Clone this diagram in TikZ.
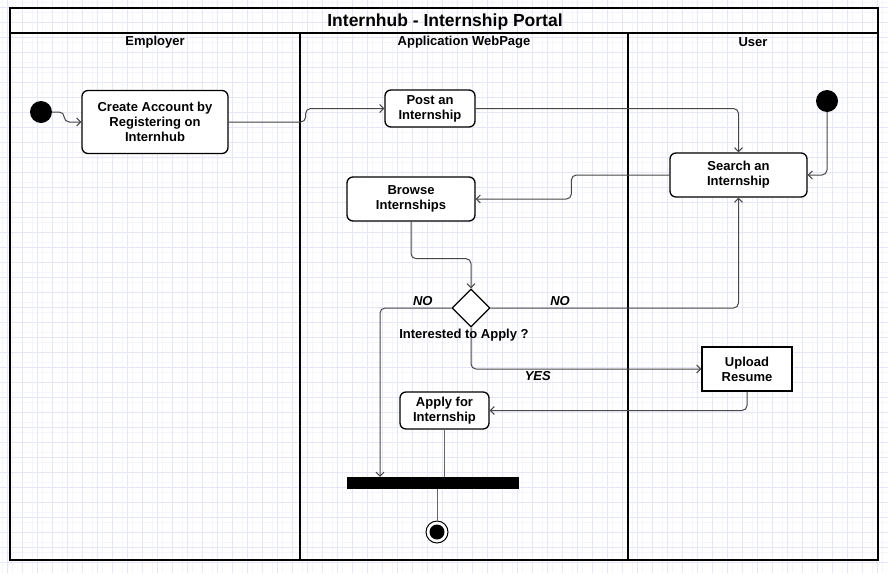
\documentclass[tikz,border=0pt]{standalone}
\usepackage{fontspec}
\setmainfont{Liberation Sans}
\usetikzlibrary{arrows.meta,shapes.geometric,positioning}
\definecolor{gridline}{HTML}{E6E6F9}
\definecolor{gridfaint}{HTML}{F5F5FD}

\begin{document}
\begin{tikzpicture}[x=1pt, y=-1pt,
    font=\fontsize{13}{15}\selectfont\bfseries,
    act/.style={draw, line width=1.3pt, rounded corners=6pt, fill=white, align=center, inner sep=0pt},
    startdot/.style={circle, fill=black, minimum size=22pt, inner sep=0pt},
    enddot/.style={circle, draw, line width=1pt, fill=white, minimum size=22pt, inner sep=0pt,
        path picture={\fill[black] (path picture bounding box.center) circle (7.5pt);}},
    decision/.style={diamond, draw, line width=1.3pt, fill=white, minimum width=38pt, minimum height=38pt, inner sep=0pt},
    flow/.style={draw=black!72, line width=1pt, rounded corners=5pt, -{Straight Barb[length=4pt, width=8pt]}},
    link/.style={draw=black!60, line width=1pt},
    edgelbl/.style={font=\fontsize{13}{15}\selectfont\bfseries\itshape, inner sep=2pt}]
    \useasboundingbox (0,0) rectangle (888,573);
    \fill[white] (0,0) rectangle (888,573);
    \foreach \gx in {2.5,12.5,...,887}
        \draw[gridfaint, line width=0.6pt] (\gx,0) -- (\gx,573);
    \foreach \gy in {2.5,12.5,...,572}
        \draw[gridfaint, line width=0.6pt] (0,\gy) -- (888,\gy);
    \foreach \gx in {7.5,22.5,...,887}
        \draw[gridline, line width=0.9pt] (\gx,0) -- (\gx,573);
    \foreach \gy in {7.5,22.5,...,572}
        \draw[gridline, line width=0.9pt] (0,\gy) -- (888,\gy);

    \draw[line width=1.5pt] (10,8) rectangle (878,560);
    \draw[line width=1.5pt] (10,33) -- (878,33);
    \draw[line width=2pt] (300,33) -- (300,560);
    \draw[line width=2pt] (628,33) -- (628,560);
    \node (title) at (445,22) {\fontsize{17.5}{20}\selectfont Internhub - Internship Portal};
    \node (lemployer) at (155,42.5) {Employer};
    \node (lweb) at (464,42.5) {Application WebPage};
    \node (luser) at (753,42.5) {User};

    \node[startdot] (start1) at (41,112) {};
    \node[act, minimum width=146pt, minimum height=63pt] (create) at (155,122) {Create Account by\\Registering on\\Internhub};
    \node[act, minimum width=90pt, minimum height=37pt] (post) at (430,108.5) {Post an\\Internship};
    \node[startdot] (start2) at (827,101) {};
    \node[act, minimum width=137pt, minimum height=44pt] (search) at (738.5,175) {Search an\\Internship};
    \node[act, minimum width=128pt, minimum height=44pt] (browse) at (411,199) {Browse\\Internships};
    \node[decision] (dec) at (471,308) {};
    \node[act, rounded corners=0pt, minimum width=90pt, minimum height=44pt] (upload) at (747,369) {Upload\\Resume};
    \node[act, minimum width=89pt, minimum height=37pt] (apply) at (444.5,410.5) {Apply for\\Internship};
    \node[fill=black, minimum width=172pt, minimum height=12pt, inner sep=0pt] (bar) at (433,483) {};
    \node[enddot] (end) at (437,532) {};
    \coordinate (nojoin) at (380,308);

    \draw[flow] (start1.east) -- ++(12,0) |- (create.west);
    \draw[flow] (create.east) -- ++(77,0) |- (post.west);
    \draw[flow] (post.east) -| (search.north);
    \draw[flow] (start2.south) |- (search.east);
    \draw[flow] (search.west) -- ++(-98,0) |- (browse.east);
    \draw[flow] (browse.south) -- ++(0,37) -| (dec.north);
    \draw[flow] (dec.east) -| node[pos=0.14, above, edgelbl] (nor) {NO} (search.south);
    \draw[flow] (dec.west) -- node[pos=0.4, above, edgelbl] (nol) {NO} (nojoin) -- (nojoin |- bar.north);
    \draw[flow] (dec.south) |- node[pos=0.645, below, edgelbl] (yes) {YES} (upload.west);
    \draw[flow] (upload.south) |- (apply.east);
    \draw[link] (apply.south) -- (apply.south |- bar.north);
    \draw[link] (end.north |- bar.south) -- (end.north);
    \node (declbl) at (464,335) {Interested to Apply ?};
\end{tikzpicture}
\end{document}
